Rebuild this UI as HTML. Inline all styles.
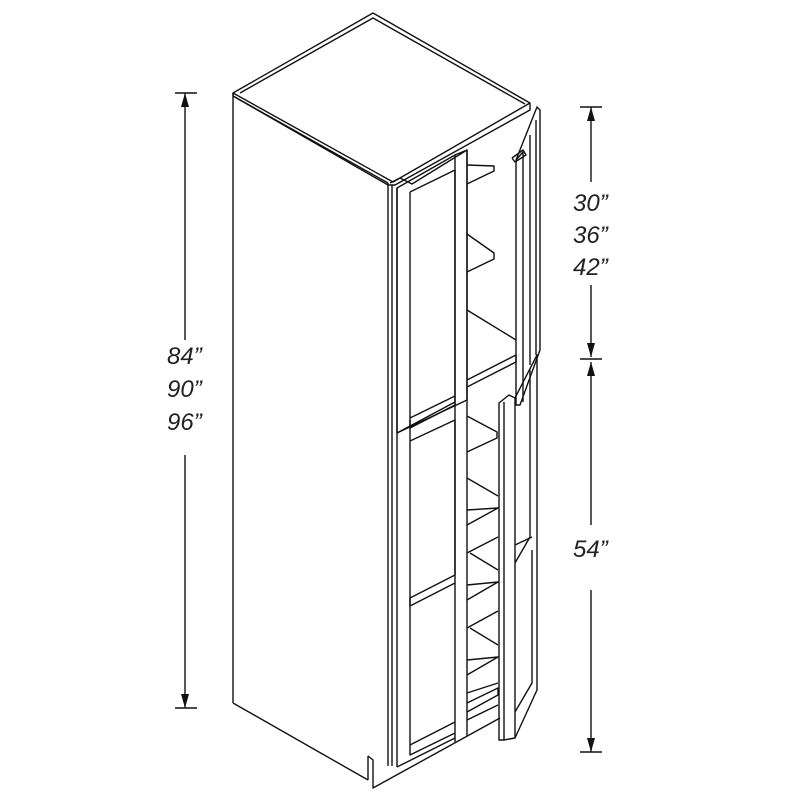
<!DOCTYPE html>
<html><head><style>html,body{margin:0;padding:0;background:#fff}svg{display:block}
text{font-family:"Liberation Sans",sans-serif;font-style:italic;font-size:24px;fill:#222}</style></head>
<body>
<svg width="800" height="800" viewBox="0 0 800 800" xmlns="http://www.w3.org/2000/svg">
<g fill="none" stroke="#111" stroke-width="1.4" stroke-linejoin="round">
<polygon points="233,93 373,13 530,103 530,110 395,185 388,185 233,96" fill="#fff"/>
<polyline points="240,93 373,18 525,104"/>
<polyline points="233,93 393,182 530,103"/>
<line x1="233" y1="96" x2="388" y2="183"/>
<line x1="233" y1="93" x2="233" y2="703"/>
<line x1="233" y1="703" x2="368" y2="780"/>
<polyline points="368,756 373,760 373,788 500,718"/>
<line x1="368" y1="756" x2="368" y2="780"/>
<line x1="388" y1="183" x2="388" y2="766"/>
<line x1="392" y1="185" x2="392" y2="766"/>
<line x1="397" y1="188" x2="397" y2="767"/>
<polygon points="397,188 455,155 467,150 467,400 397,433" />
<line x1="410" y1="192" x2="410" y2="428"/>
<polyline points="410,192 455,170 455,405 410,428"/>
<polyline points="410,418 455,396"/>
<line x1="455" y1="155" x2="455" y2="742"/>
<line x1="467" y1="150" x2="467" y2="736"/>
<polyline points="390,183 400,178 412,184 467,150"/>
<polyline points="397,433 455,402"/>
<polyline points="410,420 410,755 455,733"/>
<polyline points="410,441 455,420 455,575 410,598 410,606 455,583"/>
<polyline points="410,745 455,722"/>
<line x1="397" y1="767" x2="455" y2="738"/>
<polyline points="467,165 494,166 494,171 467,184"/>
<polyline points="467,234 494,253 494,259 467,272"/>
<polyline points="467,310 516,340"/>
<polyline points="467,380 516,355 516,362 467,387"/>
<polyline points="467,416 497,432 497,438 467,452"/>
<polyline points="467,478 498,496"/>
<polyline points="467,510 498,508 467,525"/>
<polyline points="467,553 498,537"/>
<polyline points="470,553 498,570"/>
<polyline points="467,585 498,582 467,600"/>
<polyline points="467,628 498,611"/>
<polyline points="470,628 498,645"/>
<polyline points="467,660 498,657 467,675"/>
<polyline points="467,693 498,683"/>
<polyline points="467,703 498,688 498,695 467,712"/>
<polyline points="467,720 498,705"/>
<polygon points="516,160 537,107 540,110 540,350 520,405 516,405"/>
<polyline points="516,160 523,152 523,402"/>
<line x1="530" y1="135" x2="530" y2="365"/>
<line x1="536" y1="120" x2="536" y2="355"/>
<polyline points="512,158 523,150 526,155 515,162 512,158"/>
<polygon points="499,403 509,395 515,398 515,738 504,740 499,740"/>
<line x1="504" y1="402" x2="504" y2="740"/>
<polyline points="515,398 537,355 537,690 515,738"/>
<polyline points="530,370 530,537 515,563"/>
<polyline points="532,550 532,683 515,712"/>
<polyline points="515,545 532,537"/>
<line x1="185" y1="93" x2="185" y2="340"/>
<line x1="185" y1="455" x2="185" y2="708"/>
<line x1="175" y1="93" x2="197" y2="93"/>
<line x1="175" y1="708" x2="197" y2="708"/>
<line x1="591" y1="107" x2="591" y2="182"/>
<line x1="591" y1="285" x2="591" y2="357"/>
<line x1="591" y1="362" x2="591" y2="525"/>
<line x1="591" y1="590" x2="591" y2="752"/>
<line x1="580" y1="107" x2="602" y2="107"/>
<line x1="580" y1="359" x2="602" y2="359"/>
<line x1="580" y1="752" x2="602" y2="752"/>
</g>
<g fill="#111">
<polygon points="185,93 181,107 189,107"/>
<polygon points="185,708 181,694 189,694"/>
<polygon points="591,107 587,121 595,121"/>
<polygon points="591,357 587,343 595,343"/>
<polygon points="591,362 587,376 595,376"/>
<polygon points="591,752 587,738 595,738"/>
</g>
<text x="167" y="364">84”</text>
<text x="167" y="397">90”</text>
<text x="167" y="430">96”</text>
<text x="573" y="211">30”</text>
<text x="573" y="243">36”</text>
<text x="573" y="275">42”</text>
<text x="573" y="557">54”</text>
</svg>
</body></html>
